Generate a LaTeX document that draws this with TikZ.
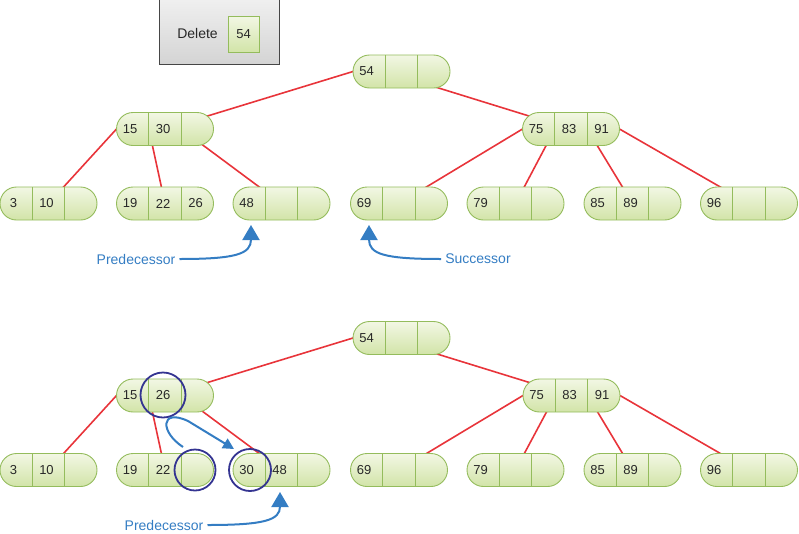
\documentclass[tikz,border=0pt]{standalone}
\usepackage{fontspec}
\setmainfont{Liberation Sans}
\usetikzlibrary{arrows.meta,backgrounds}
\definecolor{nodetop}{RGB}{242,247,228}
\definecolor{nodebot}{RGB}{210,228,168}
\definecolor{nodeborder}{RGB}{148,188,92}
\definecolor{edgered}{RGB}{232,52,58}
\definecolor{arrowblue}{RGB}{52,125,195}
\definecolor{circleblue}{RGB}{52,52,145}
\definecolor{keytext}{RGB}{40,40,40}
\tikzset{
  bt/.style={draw=nodeborder, line width=0.9pt, rounded corners=16.5pt,
    minimum width=97pt, minimum height=33pt, inner sep=0pt, outer sep=0pt,
    top color=nodetop, bottom color=nodebot},
  div/.style={draw=nodeborder, line width=0.9pt},
  key/.style={text=keytext, font=\fontsize{13}{15}\selectfont, inner sep=0pt},
  treeedge/.style={draw=edgered, line width=1.6pt},
  ring/.style={draw=circleblue, line width=1.8pt, circle, inner sep=0pt},
  bluearrow/.style={draw=arrowblue, line width=2pt,
    -{Triangle[width=17pt,length=15pt]}},
  smallarrow/.style={draw=arrowblue, line width=2pt,
    -{Triangle[width=11pt,length=11pt]}},
  lbl/.style={text=arrowblue, font=\fontsize{14}{16}\selectfont, inner sep=4pt},
}
\newcommand\btnode[6]{%
  \node[bt] (#1) at (#2,#3) {};
  \draw[div] ([xshift=-16.17pt]#1.north) -- ([xshift=-16.17pt]#1.south);
  \draw[div] ([xshift=16.17pt]#1.north) -- ([xshift=16.17pt]#1.south);
  \node[key] (#1-a) at ([xshift=-35pt]#1.center) {#4};
  \node[key] (#1-b) at ([xshift=-2pt]#1.center) {#5};
  \node[key] (#1-c) at ([xshift=30.5pt]#1.center) {#6};
}
\begin{document}
\begin{tikzpicture}[x=1pt,y=-1pt]
\useasboundingbox (0,0) rectangle (799,533);
% Delete box
\node[draw={rgb,255:red,70;green,70;blue,70}, line width=1pt,
  top color={rgb,255:red,240;green,240;blue,240},
  bottom color={rgb,255:red,212;green,212;blue,212},
  minimum width=120pt, minimum height=66pt, inner sep=0pt] (delbox) at (219,31) {};
\node[key, font=\fontsize{14}{16}\selectfont] (deltext) at (197.5,33) {Delete};
\node[draw=nodeborder, line width=0.9pt, top color=nodetop, bottom color=nodebot,
  minimum width=31pt, minimum height=36pt, inner sep=0pt] (delkey) at (243.5,34) {};
\node[key] (delkeytext) at (243.5,34) {54};

% ---------- top tree ----------
\btnode{troot}{401.5}{71.5}{54}{}{}
\btnode{tml}{165}{129}{15}{30}{}
\btnode{tmr}{571}{129}{75}{83}{91}
\btnode{tl1}{48.5}{203.5}{3}{10}{}
\btnode{tl2}{165}{203.5}{19}{22}{26}
\btnode{tl3}{281.5}{203.5}{48}{}{}
\btnode{tl4}{399}{203.5}{69}{}{}
\btnode{tl5}{515.5}{203.5}{79}{}{}
\btnode{tl6}{632.5}{203.5}{85}{89}{}
\btnode{tl7}{749}{203.5}{96}{}{}

% ---------- bottom tree ----------
\btnode{broot}{401.5}{338}{54}{}{}
\btnode{bml}{165}{395.5}{15}{26}{}
\btnode{bmr}{571.5}{395.5}{75}{83}{91}
\btnode{bl1}{48.5}{470}{3}{10}{}
\btnode{bl2}{165}{470}{19}{22}{}
\btnode{bl3}{281.5}{470}{30}{48}{}
\btnode{bl4}{399}{470}{69}{}{}
\btnode{bl5}{515.5}{470}{79}{}{}
\btnode{bl6}{632.5}{470}{85}{89}{}
\btnode{bl7}{749}{470}{96}{}{}

\begin{pgfonlayer}{background}
\foreach \t in {t,b}{
  \draw[treeedge] (\t root.west) -- (\t ml.center);
  \draw[treeedge] ([xshift=-16.17pt]\t root.center) -- (\t mr.center);
  \draw[treeedge] (\t ml.west) -- (\t l1.center);
  \draw[treeedge] ([xshift=-16.17pt]\t ml.center) -- (\t l2.center);
  \draw[treeedge] ([xshift=16.17pt]\t ml.center) -- (\t l3.center);
  \draw[treeedge] (\t mr.west) -- (\t l4.center);
  \draw[treeedge] ([xshift=-16.17pt]\t mr.center) -- (\t l5.center);
  \draw[treeedge] ([xshift=16.17pt]\t mr.center) -- (\t l6.center);
  \draw[treeedge] (\t mr.east) -- (\t l7.center);
}
\end{pgfonlayer}

% labels and arrows (top)
\node[lbl] (pred) at (136,259) {Predecessor};
\node[lbl] (succ) at (478,259) {Successor};
\coordinate (predtip) at (251,225);
\coordinate (succtip) at (369,225);
\draw[bluearrow] (pred.east) .. controls (236,259) and (251,254) .. (predtip);
\draw[bluearrow] (succ.west) .. controls (384,259) and (369,254) .. (succtip);

% bottom labels and arrows
\node[lbl] (predb) at (164,525) {Predecessor};
\coordinate (predbtip) at (280,492);
\draw[bluearrow] (predb.east) .. controls (265,525) and (280,520) .. (predbtip);

% circles
\node[ring, minimum size=45pt] (c26) at (163,395) {};
\node[ring, minimum size=41pt] (cempty) at (195,470) {};
\node[ring, minimum size=42pt] (c30) at (250,470) {};
\coordinate (movestart) at (183,447);
\coordinate (moveend) at (234,449);
\draw[smallarrow] (movestart) .. controls (160,432) and (160,408) .. (188,421) -- (moveend);
\end{tikzpicture}
\end{document}
